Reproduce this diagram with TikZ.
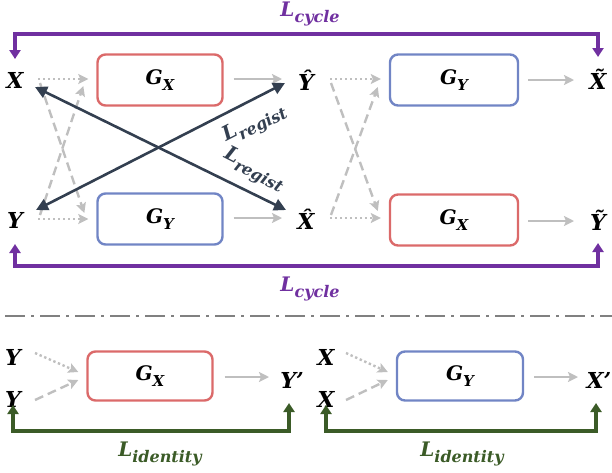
\documentclass[tikz,border=0pt]{standalone}
\usepackage{fontspec}
\setmainfont{DejaVu Serif}
\usetikzlibrary{arrows.meta,calc}
\definecolor{cpurple}{HTML}{7030A0}
\definecolor{cgreen}{HTML}{3B5B27}
\definecolor{cred}{HTML}{DB6A6A}
\definecolor{cblue}{HTML}{7185C5}
\definecolor{cgray}{HTML}{BFBFBF}
\definecolor{cnavy}{HTML}{333F50}
\definecolor{cdash}{HTML}{808080}
\newcommand\lsub[3][16]{#2\raisebox{-0.32em}{\fontsize{#1}{#1}\selectfont #3}}
\begin{document}
\begin{tikzpicture}[x=1pt,y=-1pt,
  font=\bfseries\itshape\fontsize{20}{24}\selectfont,
  lbl/.style={inner sep=0pt, font=\bfseries\itshape\fontsize{22}{26}\selectfont},
  gbox/.style={draw, rounded corners=8pt, line width=2.4pt, minimum width=125pt, minimum height=51pt, inner sep=0pt,
    font=\bfseries\itshape\fontsize{20}{22}\selectfont},
  redbox/.style={gbox, draw=cred},
  bluebox/.style={gbox, draw=cblue},
  garrow/.style={draw=cgray, line width=2.4pt, -{Stealth[length=10pt,width=10pt,inset=2pt]}},
  dotarrow/.style={garrow, dash pattern=on 2.4pt off 2.6pt},
  dasharrow/.style={garrow, dash pattern=on 9pt off 5pt},
  regist/.style={draw=cnavy, line width=2.6pt, {Triangle[length=12pt,width=12pt]}-{Triangle[length=12pt,width=12pt]}},
  cycarrow/.style={draw=cpurple, line width=3.2pt, {Triangle[length=9pt,width=11pt]}-{Triangle[length=9pt,width=11pt]}},
  idarrow/.style={draw=cgreen, line width=3.2pt, {Triangle[length=9pt,width=11pt]}-{Triangle[length=9pt,width=11pt]}},
  sep/.style={draw=cdash, line width=2.4pt, dash pattern=on 20pt off 6pt on 3pt off 6pt},
]
\useasboundingbox (0,0) rectangle (612,472);

% ---------- top section ----------
\node[lbl] (X1) at (15,80) {X};
\node[lbl] (Yh) at (306,80) {Ŷ};
\node[lbl] (Xt) at (598,79) {X̃};
\node[lbl] (Y1) at (15,220) {Y};
\node[lbl] (Xh) at (306,219) {X̂};
\node[lbl] (Yt) at (598,220) {Ỹ};

\node[redbox]  (GX1) at (160,80)  {\lsub[15]{G}{X}};
\node[bluebox] (GY1) at (160,219) {\lsub[15]{G}{Y}};
\node[bluebox, minimum width=128pt] (GY2) at (454,80)  {\lsub[15]{G}{Y}};
\node[redbox,  minimum width=128pt] (GX2) at (454,220) {\lsub[15]{G}{X}};

% left inputs
\draw[dotarrow]  ($(X1)+(23,-1)$) -- ($(GX1.west)+(-8,-1)$);
\draw[dotarrow]  ($(Y1)+(23,-1)$) -- ($(GY1.west)+(-8,0)$);
\draw[dasharrow] ($(X1)+(25,3)$)  -- ($(GY1.west)+(-12,-6)$);
\draw[dasharrow] ($(Y1)+(25,-5)$) -- ($(GX1.west)+(-13,6)$);

% right inputs
\draw[dotarrow]  ($(Yh)+(24,-1)$) -- ($(GY2.west)+(-8,-1)$);
\draw[dotarrow]  ($(Xh)+(24,-1)$) -- ($(GX2.west)+(-8,-2)$);
\draw[dasharrow] ($(Yh)+(25,3)$)  -- ($(GX2.west)+(-11,-9)$);
\draw[dasharrow] ($(Xh)+(25,-4)$) -- ($(GY2.west)+(-11,7)$);

% outputs
\draw[garrow] ($(GX1.east)+(10,-1)$) -- ($(GX1.east -| Yh)+(-24,-1)$);
\draw[garrow] ($(GY1.east)+(10,-1)$) -- ($(GY1.east -| Xh)+(-24,-1)$);
\draw[garrow] ($(GY2.east)+(9,0)$) -- ($(GY2.east -| Xt)+(-24,0)$);
\draw[garrow] ($(GX2.east)+(9,1)$) -- ($(GX2.east -| Yt)+(-24,1)$);

% registration losses
\draw[regist] ($(X1)+(20,7)$) -- ($(Xh)+(-20,-9)$);
\draw[regist] ($(Y1)+(21,-10)$) -- ($(Yh)+(-21,3)$);
\node[text=cnavy, rotate=27, inner sep=0pt] (LR1) at (255,124) {\lsub{L}{regist}};
\node[text=cnavy, rotate=-27, inner sep=0pt] (LR2) at (254,170) {\lsub{L}{regist}};

% cycle losses
\draw[cycarrow] (X1 |- 0,59) -- (X1 |- 0,34) -| (Xt |- 0,57);
\draw[cycarrow] (Y1 |- 0,244) -- (Y1 |- 0,266) -| (Yt |- 0,243);
\node[text=cpurple, inner sep=0pt] (LC1) at (310,14) {\lsub{L}{cycle}};
\node[text=cpurple, inner sep=0pt] (LC2) at (310,289) {\lsub{L}{cycle}};

% separator
\draw[sep] (5,316) -- (612,316);

% ---------- identity section ----------
\node[lbl] (Yb1) at (13,357) {Y};
\node[lbl] (Yb2) at (13,399) {Y};
\node[lbl] (Yp)  at (292,380) {Y\char"27};
\node[redbox, minimum height=49pt] (GX3) at (150,376) {\lsub[15]{G}{X}};

\node[lbl] (Xb1) at (326,357) {X};
\node[lbl] (Xb2) at (326,399) {X};
\node[lbl] (Xp)  at (599,380) {X\char"27};
\node[bluebox, minimum height=49pt, minimum width=126pt] (GY3) at (460,376) {\lsub[15]{G}{Y}};

\draw[dotarrow]  ($(Yb1)+(22,-4)$) -- ($(GX3.west)+(-8,-4)$);
\draw[dasharrow] ($(Yb2)+(22,1)$)  -- ($(GX3.west)+(-8,4)$);
\draw[garrow]    ($(GX3.east)+(11,1)$) -- ($(GX3.east -| Yp)+(-23,1)$);

\draw[dotarrow]  ($(Xb1)+(20,-4)$) -- ($(GY3.west)+(-8,-4)$);
\draw[dasharrow] ($(Xb2)+(20,1)$)  -- ($(GY3.west)+(-8,4)$);
\draw[garrow]    ($(GY3.east)+(10,1)$) -- ($(GY3.east -| Xp)+(-21,1)$);

\draw[idarrow] (Yb2 |- 0,405) -- (Yb2 |- 0,431) -| ($(Yp |- 0,403)+(-3,0)$);
\draw[idarrow] (Xb2 |- 0,405) -- (Xb2 |- 0,431) -| ($(Xp |- 0,403)+(-3,0)$);
\node[text=cgreen, inner sep=0pt] (LI1) at (160,454) {\lsub{L}{identity}};
\node[text=cgreen, inner sep=0pt] (LI2) at (462,454) {\lsub{L}{identity}};
\end{tikzpicture}
\end{document}
